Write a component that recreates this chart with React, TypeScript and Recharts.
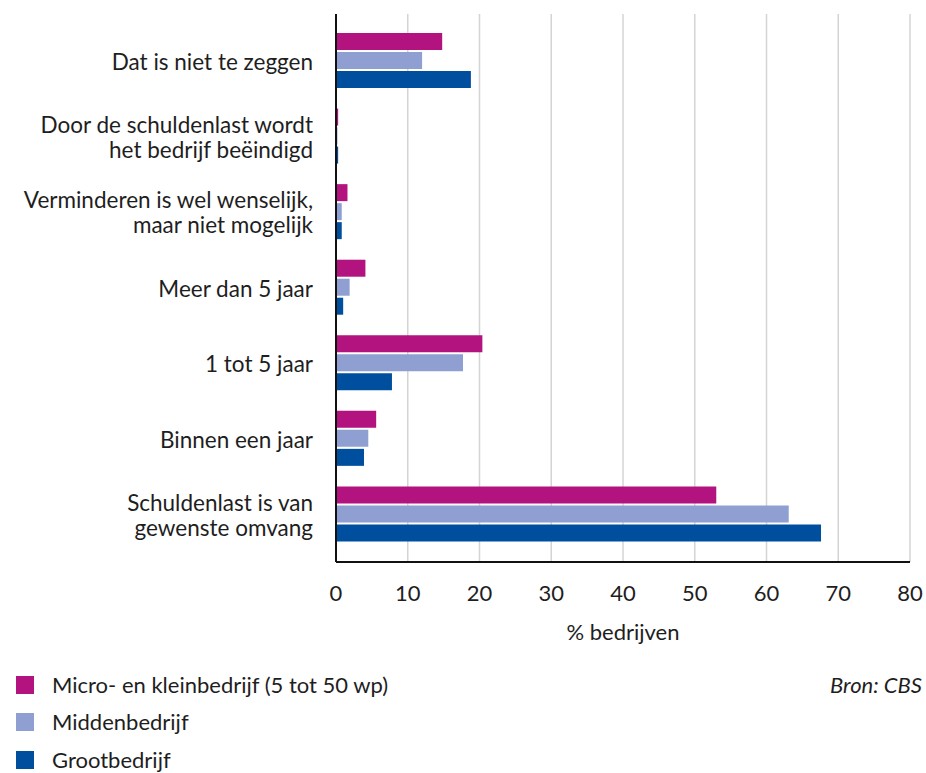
import { BarChart, Bar, XAxis, YAxis, CartesianGrid } from 'recharts';

const categories = [
  'Dat is niet te zeggen',
  'Door de schuldenlast wordt\nhet bedrijf beëindigd',
  'Verminderen is wel wenselijk,\nmaar niet mogelijk',
  'Meer dan 5 jaar',
  '1 tot 5 jaar',
  'Binnen een jaar',
  'Schuldenlast is van\ngewenste omvang',
];
const microKlein = [14.8, 0.3, 1.6, 4.1, 20.4, 5.6, 53.0];
const midden = [12.0, 0.2, 0.8, 1.9, 17.7, 4.5, 63.1];
const groot = [18.8, 0.3, 0.8, 1.0, 7.8, 3.9, 67.6];
const xTicks = [0, 10, 20, 30, 40, 50, 60, 70, 80];

const series = [
  { key: 'micro', name: 'Micro- en kleinbedrijf (5 tot 50 wp)', color: '#b3137e' },
  { key: 'midden', name: 'Middenbedrijf', color: '#8f9fd1' },
  { key: 'groot', name: 'Grootbedrijf', color: '#004f9f' },
];

const data = categories.map((cat, i) => ({
  cat,
  micro: microKlein[i],
  midden: midden[i],
  groot: groot[i],
}));

const FONT = 'Lato, "Noto Sans", sans-serif';
const TEXT = '#1e1e1e';

function CategoryTick({ x, y, payload }: any) {
  const lines = String(payload.value).split('\n');
  const lh = 25;
  const start = y - ((lines.length - 1) * lh) / 2 + 9;
  return (
    <text x={x} y={start} textAnchor="end" fill={TEXT} fontSize={22.5} fontFamily={FONT}>
      {lines.map((l, i) => (
        <tspan key={i} x={x} y={start + i * lh}>
          {l}
        </tspan>
      ))}
    </text>
  );
}

export default function App() {
  return (
    <div style={{ position: 'absolute', left: 0, top: 0, width: 926, height: 773, background: '#fff', fontFamily: FONT }}>
      <BarChart
        width={926}
        height={660}
        data={data}
        layout="vertical"
        margin={{ top: 14, right: 16, bottom: 18, left: 0 }}
        barSize={17}
        barGap={2}
      >
        <CartesianGrid horizontal={false} stroke="#d4d4d4" strokeWidth={1.5} />
        <XAxis
          type="number"
          domain={[0, 80]}
          ticks={xTicks}
          height={80}
          tickLine={false}
          tickSize={0}
          tickMargin={23}
          axisLine={{ stroke: '#111', strokeWidth: 2 }}
          tick={{ fill: TEXT, fontSize: 22, fontFamily: FONT }}
          label={{ value: '% bedrijven', position: 'insideBottom', offset: 2, fill: TEXT, fontSize: 22, fontFamily: FONT }}
        />
        <YAxis
          type="category"
          dataKey="cat"
          width={336}
          tickLine={false}
          tickSize={0}
          tickMargin={23}
          padding={{ top: 9, bottom: 10 }}
          axisLine={{ stroke: '#111', strokeWidth: 2 }}
          tick={<CategoryTick />}
          interval={0}
        />
        {series.map((s) => (
          <Bar key={s.key} dataKey={s.key} name={s.name} fill={s.color} isAnimationActive={false} />
        ))}
      </BarChart>
      <div style={{ position: 'absolute', left: 16, top: 666, fontSize: 22, lineHeight: '26px', color: TEXT }}>
        {series.map((s) => (
          <div key={s.key} style={{ display: 'flex', alignItems: 'center', height: 37.5 }}>
            <span style={{ width: 18, height: 18, background: s.color, display: 'inline-block', marginRight: 18 }} />
            <span>{s.name}</span>
          </div>
        ))}
      </div>
      <div style={{ position: 'absolute', right: 4, top: 666, height: 37.5, lineHeight: '26px', display: 'flex', alignItems: 'center', fontSize: 22, fontStyle: 'italic', color: TEXT }}>
        Bron: CBS
      </div>
    </div>
  );
}
